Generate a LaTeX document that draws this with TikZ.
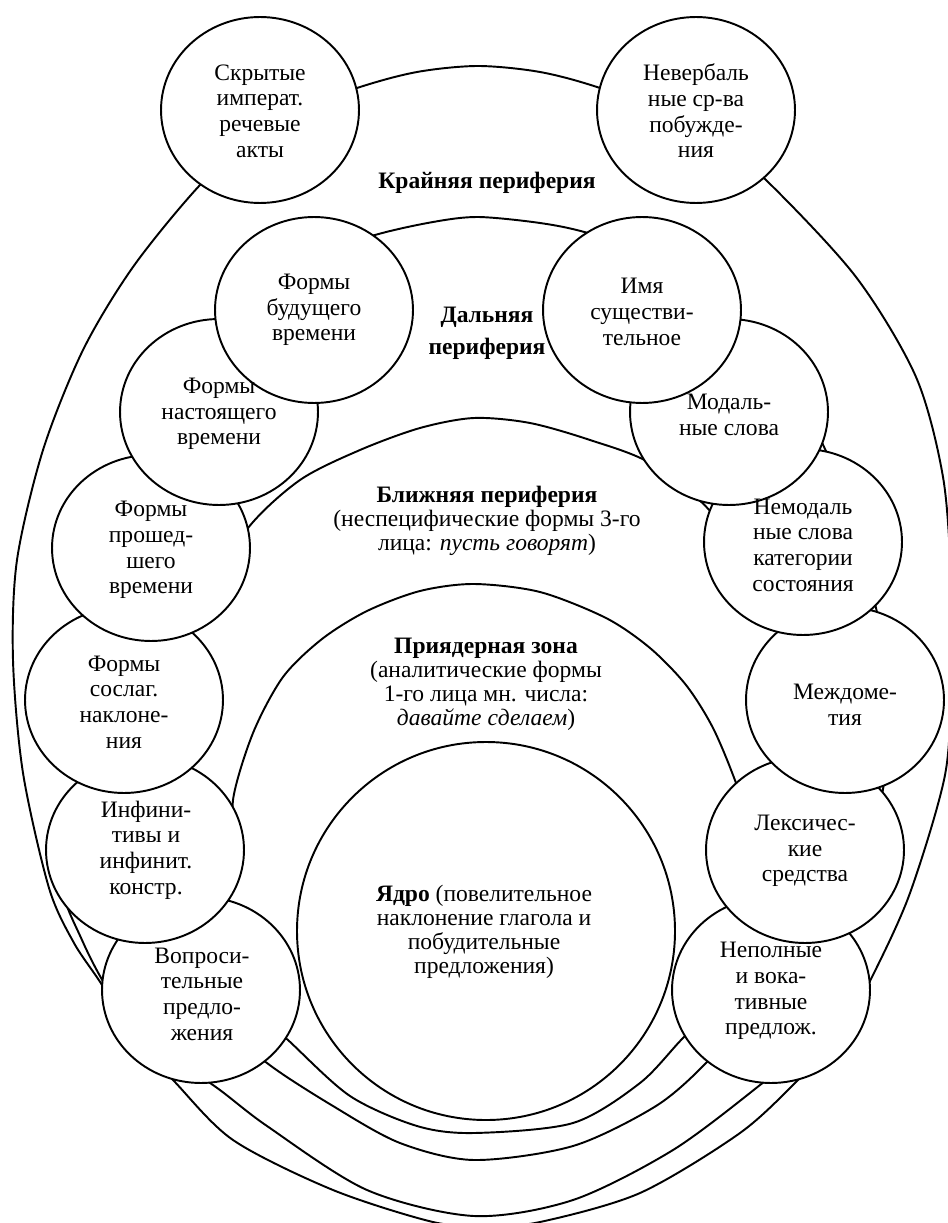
\documentclass[tikz,border=0pt]{standalone}
\usepackage{fontspec}
\setmainfont{Liberation Serif}
\usepackage{tikz}
\usetikzlibrary{shapes.geometric}

\begin{document}
\begin{tikzpicture}[x=0.02cm,y=-0.02cm,line width=1.1pt,
  zone/.style={draw,line join=round},
  sat/.style={ellipse,draw,fill=white,minimum width=3.96cm,minimum height=3.72cm,inner sep=0pt},
  sattext/.style={align=center,font=\fontsize{13.4}{14.6}\selectfont},
  zonetext/.style={align=center,font=\fontsize{13.4}{13.66}\selectfont}]
\useasboundingbox (0,0) rectangle (947,1223);
\draw[zone] plot[smooth cycle] coordinates {(478,66) (540,72) (600,88) (700,125) (766,180) (856,277) (916,377) (943,477) (951,580) (951,680) (945,775) (910,893) (872,977) (840,1035) (798,1080) (740,1133) (640,1193) (540,1222) (487,1226) (433,1222) (333,1190) (233,1140) (173,1080) (130,1035) (102,985) (74,943) (49,888) (23,773) (13,660) (17,560) (43,450) (83,350) (133,267) (200,185) (270,120) (357,88) (417,72)};
\draw[zone] plot[smooth cycle] coordinates {(478,217) (540,223) (588,233) (680,262) (738,322) (790,380) (825,449) (860,530) (876,608) (897,700) (883,789) (870,870) (840,960) (800,1050) (760,1085) (673,1150) (573,1200) (474,1216) (367,1190) (267,1126) (213,1085) (140,1038) (104,983) (82,940) (62,888) (72,835) (83,782) (80,700) (86,615) (105,540) (136,459) (170,390) (216,322) (300,260) (375,235) (433,222)};
\draw[zone] plot[smooth cycle] coordinates {(474,418) (530,423) (590,440) (650,463) (711,512) (760,590) (790,640) (775,720) (780,765) (740,850) (735,907) (745,1015) (706,1063) (656,1106) (573,1146) (474,1160) (400,1143) (333,1106) (267,1063) (215,1015) (222,905) (225,860) (185,780) (185,740) (185,650) (205,600) (248,528) (300,480) (360,450) (420,428)};
\draw[zone] plot[smooth cycle] coordinates {(474,584) (540,592) (606,618) (650,648) (686,685) (713,728) (736,783) (758,850) (735,910) (728,995) (683,1038) (640,1083) (573,1123) (474,1133) (417,1126) (350,1096) (288,1040) (240,995) (226,903) (238,850) (233,800) (253,733) (283,677) (322,639) (367,611) (420,591)};
\draw[zone] (486,931) circle [radius=189];
\foreach \n/\x/\y in {hid/260/110, nonverb/696/110,
  quest/201/990, infin/145/850, subj/124/700, past/151/548, pres/219/412, fut/314/310,
  incompl/771/990, lex/805/850, interj/845/700, nonmod/803/542, modal/729/412, noun/642/310}
  \node[sat] (\n) at (\x,\y) {};
\node[sattext] (hidtext) at (260,111) {Скрытые\\императ.\\речевые\\акты};
\node[sattext] (nonverbtext) at (696,111) {Невербаль\\ные ср-ва\\побужде-\\ния};
\node[sattext] (futtext) at (314,310) {Формы\\будущего\\времени};
\node[sattext] (nountext) at (642,312) {Имя\\существи-\\тельное};
\node[sattext] (prestext) at (219,414) {Формы\\настоящего\\времени};
\node[sattext] (modaltext) at (729,415) {Модаль-\\ные слова};
\node[sattext] (pasttext) at (151,550) {Формы\\прошед-\\шего\\времени};
\node[sattext] (nonmodtext) at (803,545) {Немодаль\\ные слова\\категории\\состояния};
\node[sattext] (subjtext) at (124,702) {Формы\\сослаг.\\наклоне-\\ния};
\node[sattext] (interjtext) at (845,705) {Междоме-\\тия};
\node[sattext] (infintext) at (146,850) {Инфини-\\тивы и\\инфинит.\\констр.};
\node[sattext] (lextext) at (805,851) {Лексичес-\\кие\\средства};
\node[sattext] (questtext) at (202,994) {Вопроси-\\тельные\\предло-\\жения};
\node[sattext] (incompltext) at (771,991) {Неполные\\и вока-\\тивные\\предлож.};
\node[zonetext] (outer) at (487,183) {\textbf{Крайняя периферия}};
\node[zonetext] (far) at (487,333) {\textbf{Дальняя}\\[0.16cm]\textbf{периферия}};
\node[zonetext] (near) at (487,521) {\textbf{Ближняя периферия}\\(неспецифические формы 3-го\\лица: \textit{пусть говорят})};
\node[zonetext] (prenuc) at (486,684) {\textbf{Приядерная зона}\\(аналитические формы\\1-го лица мн. числа:\\\textit{давайте сделаем})};
\node[zonetext] (core) at (484,932) {\textbf{Ядро} (повелительное\\наклонение глагола и\\побудительные\\предложения)};
\end{tikzpicture}
\end{document}
